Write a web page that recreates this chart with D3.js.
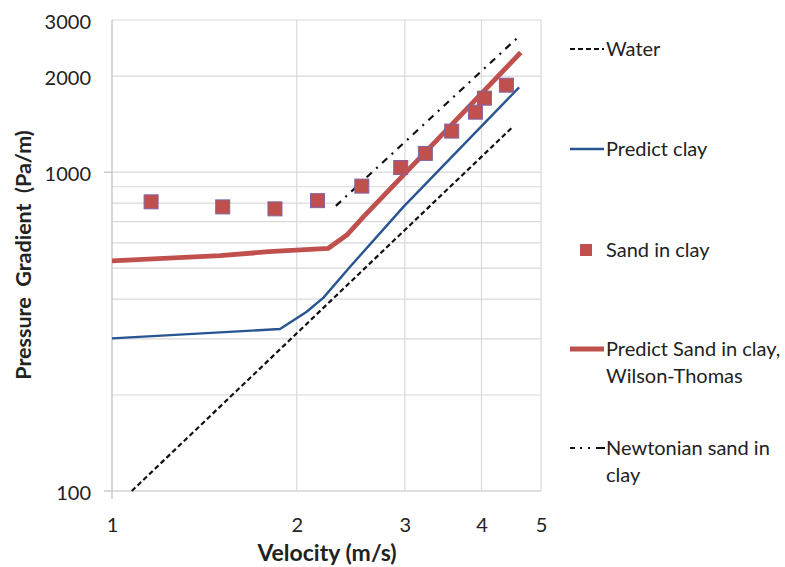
<!DOCTYPE html>
<html>
<head>
<meta charset="utf-8">
<script src="https://cdn.jsdelivr.net/npm/d3@7/dist/d3.min.js"></script>
<style>
  html, body { margin: 0; padding: 0; background: #fff; }
  svg { display: block; font-family: Lato, "Open Sans", sans-serif; }
</style>
</head>
<body>
<svg id="chart" width="785" height="567"></svg>
<script>
// ---- Data ----
const waterV = [1.077, 4.498];
const waterG = [100, 1387];

const predictClayV = [1.0, 1.878, 2.076, 2.211, 2.443, 2.984, 4.606];
const predictClayG = [301, 322, 365, 404, 505, 778, 1844];

const sandV = [1.158, 1.515, 1.843, 2.162, 2.553, 2.954, 3.240, 3.577, 3.909, 4.044, 4.391];
const sandG = [807, 778, 767, 814, 904, 1034, 1145, 1345, 1542, 1706, 1874];

const predictSandV = [1.0, 1.5, 1.8, 2.252, 2.413, 2.568, 4.634];
const predictSandG = [527, 547, 563, 577, 635, 724, 2373];

const newtonV = [2.316, 4.594];
const newtonG = [784, 2656];

const xTicks = [1, 2, 3, 4, 5];
const yGrid = [100, 200, 300, 400, 500, 600, 700, 800, 900, 1000, 2000, 3000];
const yTickLabels = [100, 1000, 2000, 3000];
const yMajor = [100, 1000];
const xMajor = [1];

const xTitle = "Velocity (m/s)";
const yTitle = "Pressure\u00a0 Gradient\u00a0 (Pa/m)";

const legendItems = [
  { lines: ["Water"], type: "water" },
  { lines: ["Predict clay"], type: "clay" },
  { lines: ["Sand in clay"], type: "sand" },
  { lines: ["Predict Sand in clay,", "Wilson-Thomas"], type: "predsand" },
  { lines: ["Newtonian sand in", "clay"], type: "newton" }
];

// ---- Styles ----
const RED = "#C0504D", BLUE = "#285591", PURPLE = "#8064A2";
const GRID = "#D9D9D9", AXIS = "#BFBFBF", TEXT = "#222";

const svg = d3.select("#chart");
const x = d3.scaleLog().domain([1, 5]).range([112, 541]);
const y = d3.scaleLog().domain([100, 3000]).range([491, 20]);

// gridlines
svg.append("g").selectAll("line").data(yGrid).join("line")
  .attr("x1", x(1)).attr("x2", x(5))
  .attr("y1", d => y(d)).attr("y2", d => y(d))
  .attr("stroke", d => d === 100 ? AXIS : GRID).attr("stroke-width", 1.2);
svg.append("g").selectAll("line").data(xTicks).join("line")
  .attr("x1", d => x(d)).attr("x2", d => x(d))
  .attr("y1", y(100)).attr("y2", y(3000))
  .attr("stroke", d => d === 1 ? AXIS : GRID).attr("stroke-width", 1.2);
// major tick marks
svg.append("g").selectAll("line").data(yMajor).join("line")
  .attr("x1", x(1) - 8).attr("x2", x(1))
  .attr("y1", d => y(d)).attr("y2", d => y(d))
  .attr("stroke", AXIS).attr("stroke-width", 1.2);
svg.append("g").selectAll("line").data(xMajor).join("line")
  .attr("x1", d => x(d)).attr("x2", d => x(d))
  .attr("y1", y(100)).attr("y2", y(100) + 8)
  .attr("stroke", AXIS).attr("stroke-width", 1.2);

// axes labels via d3 axes
const yAxis = d3.axisLeft(y).tickValues(yTickLabels).tickFormat(d3.format("d")).tickSize(0).tickPadding(21);
const gy = svg.append("g").attr("transform", `translate(${x(1)},0)`).call(yAxis);
gy.select(".domain").remove();
gy.selectAll("text").attr("font-size", 20).attr("fill", TEXT).attr("font-family", "Lato").attr("dy", "0.4em");

const xAxis = d3.axisBottom(x).tickValues(xTicks).tickFormat(d3.format("d")).tickSize(0).tickPadding(27);
const gx = svg.append("g").attr("transform", `translate(0,${y(100)})`).call(xAxis);
gx.select(".domain").remove();
gx.selectAll("text").attr("font-size", 20).attr("fill", TEXT).attr("font-family", "Lato");

// titles
svg.append("text").attr("x", 327).attr("y", 561).attr("text-anchor", "middle")
  .attr("font-weight", "bold").attr("font-size", 23).attr("fill", TEXT).text(xTitle);
svg.append("text").attr("transform", "translate(31,255) rotate(-90)").attr("text-anchor", "middle")
  .attr("font-weight", "bold").attr("font-size", 21.5).attr("fill", TEXT).text(yTitle);

// lines
const line = d3.line().x(d => x(d[0])).y(d => y(d[1]));
const zip = (a, b) => a.map((v, i) => [v, b[i]]);

svg.append("path").datum(zip(waterV, waterG)).attr("d", line)
  .attr("fill", "none").attr("stroke", "#111").attr("stroke-width", 2.2).attr("stroke-dasharray", "5,3");
svg.append("path").datum(zip(predictClayV, predictClayG)).attr("d", line)
  .attr("fill", "none").attr("stroke", BLUE).attr("stroke-width", 2.4).attr("stroke-linejoin", "round");
svg.append("path").datum(zip(predictSandV, predictSandG)).attr("d", line)
  .attr("fill", "none").attr("stroke", RED).attr("stroke-width", 4.8).attr("stroke-linejoin", "round");
svg.append("path").datum(zip(newtonV, newtonG)).attr("d", line)
  .attr("fill", "none").attr("stroke", "#111").attr("stroke-width", 2.2).attr("stroke-dasharray", "7,6,2,6");

// markers
const MS = 14;
svg.append("g").selectAll("rect").data(zip(sandV, sandG)).join("rect")
  .attr("x", d => x(d[0]) - MS / 2).attr("y", d => y(d[1]) - MS / 2)
  .attr("width", MS).attr("height", MS)
  .attr("fill", RED).attr("stroke", PURPLE).attr("stroke-width", 1);

// legend
const legendY = [49, 149, 250, 349, 448];
const lg = svg.append("g");
legendItems.forEach((it, i) => {
  const cy = legendY[i];
  const g = lg.append("g");
  if (it.type === "water") {
    g.append("line").attr("x1", 570).attr("x2", 604).attr("y1", cy).attr("y2", cy)
      .attr("stroke", "#111").attr("stroke-width", 2.2).attr("stroke-dasharray", "5,3");
  } else if (it.type === "clay") {
    g.append("line").attr("x1", 570).attr("x2", 604).attr("y1", cy).attr("y2", cy)
      .attr("stroke", BLUE).attr("stroke-width", 2.4);
  } else if (it.type === "sand") {
    g.append("rect").attr("x", 580).attr("y", cy - 6).attr("width", 12).attr("height", 12)
      .attr("fill", RED);
  } else if (it.type === "predsand") {
    g.append("line").attr("x1", 570).attr("x2", 604).attr("y1", cy).attr("y2", cy)
      .attr("stroke", RED).attr("stroke-width", 4.8);
  } else {
    g.append("line").attr("x1", 570).attr("x2", 605).attr("y1", cy).attr("y2", cy)
      .attr("stroke", "#111").attr("stroke-width", 2.2).attr("stroke-dasharray", "5,5,2,6,2,6,9");
  }
  it.lines.forEach((t, j) => {
    g.append("text").attr("x", 606).attr("y", cy + 7 + j * 27)
      .attr("font-size", 20).attr("fill", TEXT).text(t);
  });
});
</script>
</body>
</html>
